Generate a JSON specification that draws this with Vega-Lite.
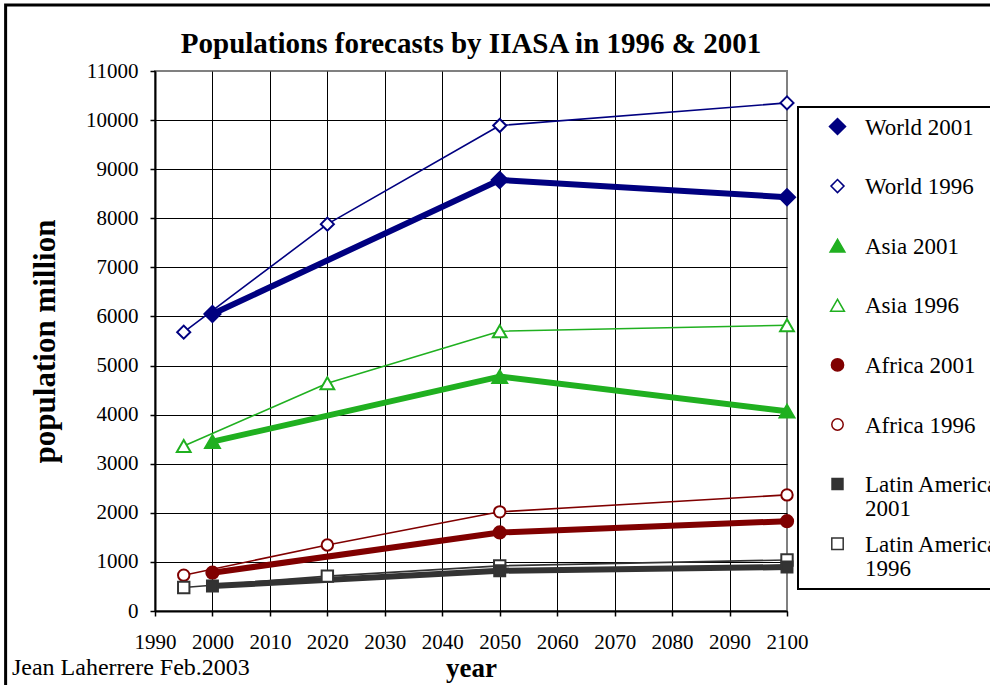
{
  "$schema": "https://vega.github.io/schema/vega-lite/v6.json",
  "width": 632,
  "height": 540,
  "autosize": {"type": "none"},
  "padding": {"left": 155, "top": 71, "right": 203, "bottom": 74},
  "background": "white",
  "title": {
    "text": "Populations forecasts by IIASA in 1996 & 2001",
    "font": "Liberation Serif",
    "fontSize": 29,
    "fontWeight": "bold",
    "color": "black",
    "anchor": "middle",
    "offset": 8,
    "dy": 63
  },
  "config": {
    "view": {"stroke": "#808080", "strokeWidth": 2},
    "font": "Liberation Serif"
  },
  "datasets": {
    "pop": [
      {"series": "World 1996", "year": 1995, "pop": 5680},
      {"series": "World 1996", "year": 2020, "pop": 7880},
      {"series": "World 1996", "year": 2050, "pop": 9890},
      {"series": "World 1996", "year": 2100, "pop": 10350},
      {"series": "Asia 1996", "year": 1995, "pop": 3360},
      {"series": "Asia 1996", "year": 2020, "pop": 4640},
      {"series": "Asia 1996", "year": 2050, "pop": 5700},
      {"series": "Asia 1996", "year": 2100, "pop": 5820},
      {"series": "Africa 1996", "year": 1995, "pop": 730},
      {"series": "Africa 1996", "year": 2020, "pop": 1345},
      {"series": "Africa 1996", "year": 2050, "pop": 2020},
      {"series": "Africa 1996", "year": 2100, "pop": 2365},
      {"series": "Latin America 1996", "year": 1995, "pop": 480},
      {"series": "Latin America 1996", "year": 2020, "pop": 710},
      {"series": "Latin America 1996", "year": 2050, "pop": 920},
      {"series": "Latin America 1996", "year": 2100, "pop": 1040},
      {"series": "World 2001", "year": 2000, "pop": 6050},
      {"series": "World 2001", "year": 2050, "pop": 8780},
      {"series": "World 2001", "year": 2100, "pop": 8430},
      {"series": "Asia 2001", "year": 2000, "pop": 3450},
      {"series": "Asia 2001", "year": 2050, "pop": 4775},
      {"series": "Asia 2001", "year": 2100, "pop": 4070},
      {"series": "Africa 2001", "year": 2000, "pop": 780},
      {"series": "Africa 2001", "year": 2050, "pop": 1600},
      {"series": "Africa 2001", "year": 2100, "pop": 1830},
      {"series": "Latin America 2001", "year": 2000, "pop": 510},
      {"series": "Latin America 2001", "year": 2050, "pop": 820},
      {"series": "Latin America 2001", "year": 2100, "pop": 895}
    ]
  },
  "layer": [
    {
      "data": {"values": [{"frame": "outer"}]},
      "mark": {"type": "rect", "fill": "transparent", "stroke": "black", "strokeWidth": 3, "clip": false},
      "encoding": {
        "x": {"datum": 1964, "type": "quantitative"},
        "x2": {"datum": 2160},
        "y": {"datum": 12344, "type": "quantitative"},
        "y2": {"datum": -2500}
      }
    },
    {
      "data": {"name": "pop"},
      "mark": {"type": "line", "strokeJoin": "round", "clip": false},
      "encoding": {
        "x": {
          "field": "year",
          "type": "quantitative",
          "scale": {"domain": [1990, 2100], "nice": false, "zero": false},
          "axis": {
            "title": "year",
            "titleFont": "Liberation Serif",
            "titleFontSize": 27,
            "titleFontWeight": "bold",
            "titleColor": "black",
            "titlePadding": 3,
            "values": [1990, 2000, 2010, 2020, 2030, 2040, 2050, 2060, 2070, 2080, 2090, 2100],
            "format": "d",
            "labelFont": "Liberation Serif",
            "labelFontSize": 21,
            "labelColor": "black",
            "labelPadding": 15,
            "labelFlush": false,
            "labelOverlap": false,
            "tickSize": 5,
            "tickColor": "black",
            "tickWidth": 1.5,
            "domainColor": "black",
            "domainWidth": 2,
            "grid": true,
            "gridColor": "black",
            "gridWidth": 1,
            "gridOpacity": {"condition": {"test": "datum.value == 2100", "value": 0}, "value": 1}
          }
        },
        "y": {
          "field": "pop",
          "type": "quantitative",
          "scale": {"domain": [0, 11000], "nice": false},
          "axis": {
            "title": "population million",
            "titleFont": "Liberation Serif",
            "titleFontSize": 31,
            "titleFontWeight": "bold",
            "titleColor": "black",
            "titlePadding": 24,
            "values": [0, 1000, 2000, 3000, 4000, 5000, 6000, 7000, 8000, 9000, 10000, 11000],
            "format": "d",
            "labelFont": "Liberation Serif",
            "labelFontSize": 21,
            "labelColor": "black",
            "labelPadding": 12,
            "labelFlush": false,
            "labelOverlap": false,
            "tickSize": 5,
            "tickColor": "black",
            "tickWidth": 1.5,
            "domainColor": "black",
            "domainWidth": 2,
            "grid": true,
            "gridColor": "black",
            "gridWidth": 1,
            "gridOpacity": {"condition": {"test": "datum.value == 11000", "value": 0}, "value": 1}
          }
        },
        "color": {
          "field": "series",
          "type": "nominal",
          "scale": {
            "domain": ["World 2001", "World 1996", "Asia 2001", "Asia 1996", "Africa 2001", "Africa 1996", "Latin America 2001", "Latin America 1996"],
            "range": ["#000080", "#000080", "#20b020", "#20b020", "#800000", "#800000", "#333333", "#333333"]
          },
          "legend": {
            "orient": "none",
            "legendX": 643,
            "legendY": 36,
            "title": null,
            "strokeColor": "black",
            "fillColor": "white",
            "padding": 8,
            "labelFont": "Liberation Serif",
            "labelFontSize": 23,
            "labelColor": "black",
            "labelOffset": 16,
            "symbolOffset": 20,
            "labelLimit": 400,
            "labelBaseline": "alphabetic",
            "rowPadding": 10.6,
            "gridAlign": "all",
            "labelExpr": "indexof(datum.label, 'Latin America') == 0 ? ['Latin America', replace(datum.label, 'Latin America ', '')] : datum.label",
            "encode": {
              "symbols": {
                "update": {
                  "strokeCap": {"value": "round"},
                  "opacity": {"value": 1}
                }
              },
              "labels": {
                "update": {
                  "dy": {"value": 8},
                  "lineHeight": {"value": 24}
                }
              },
              "legend": {
                "update": {
                  "strokeWidth": {"value": 2}
                }
              }
            }
          }
        },
        "strokeWidth": {
          "condition": {"test": "indexof(datum.series, '2001') >= 0", "value": 6},
          "value": 1.6
        }
      }
    },
    {
      "data": {"name": "pop"},
      "mark": {"type": "point", "filled": true, "opacity": 1, "strokeWidth": 2, "clip": false},
      "encoding": {
        "x": {"field": "year", "type": "quantitative"},
        "y": {"field": "pop", "type": "quantitative"},
        "shape": {
          "field": "series",
          "type": "nominal",
          "scale": {
            "domain": ["World 2001", "World 1996", "Asia 2001", "Asia 1996", "Africa 2001", "Africa 1996", "Latin America 2001", "Latin America 1996"],
            "range": ["diamond", "diamond", "triangle-up", "triangle-up", "circle", "circle", "square", "square"]
          },
          "legend": null
        },
        "fill": {
          "field": "series",
          "type": "nominal",
          "scale": {
            "domain": ["World 2001", "World 1996", "Asia 2001", "Asia 1996", "Africa 2001", "Africa 1996", "Latin America 2001", "Latin America 1996"],
            "range": ["#000080", "white", "#20b020", "white", "#800000", "white", "#333333", "white"]
          },
          "legend": null
        },
        "stroke": {
          "field": "series",
          "type": "nominal",
          "scale": {
            "domain": ["World 2001", "World 1996", "Asia 2001", "Asia 1996", "Africa 2001", "Africa 1996", "Latin America 2001", "Latin America 1996"],
            "range": ["#000080", "#000080", "#20b020", "#20b020", "#800000", "#800000", "#333333", "#333333"]
          },
          "legend": null
        },
        "size": {
          "field": "series",
          "type": "nominal",
          "scale": {
            "type": "ordinal",
            "domain": ["World 2001", "World 1996", "Asia 2001", "Asia 1996", "Africa 2001", "Africa 1996", "Latin America 2001", "Latin America 1996"],
            "range": [260, 170, 220, 190, 150, 130, 120, 130]
          },
          "legend": null
        }
      }
    },
    {
      "data": {"values": [{"credit": "Jean Laherrere Feb.2003"}]},
      "mark": {"type": "text", "align": "left", "baseline": "alphabetic", "font": "Liberation Serif", "fontSize": 24, "color": "black", "clip": false},
      "encoding": {
        "x": {"datum": 1965.1, "type": "quantitative"},
        "y": {"datum": -1304, "type": "quantitative"},
        "text": {"field": "credit"}
      }
    }
  ]
}
